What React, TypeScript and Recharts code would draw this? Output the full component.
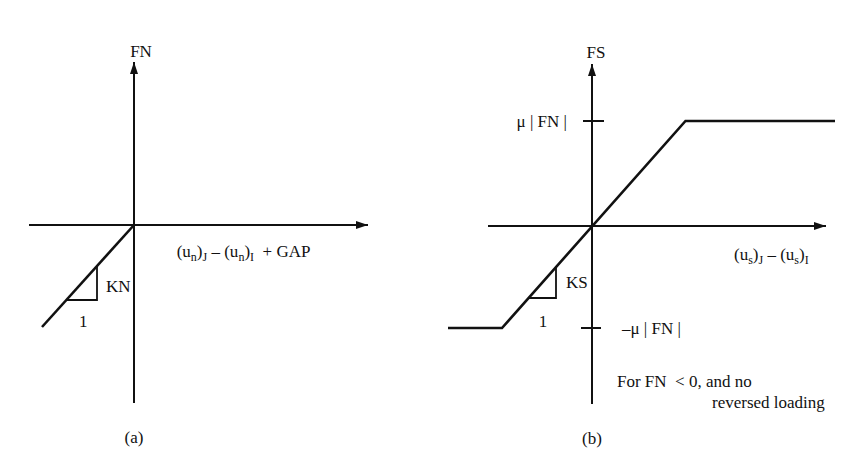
import { LineChart, Line, XAxis, YAxis, ReferenceLine, ReferenceDot } from 'recharts';

const INK = '#111';
const FONT = "'Liberation Serif', 'Times New Roman', 'DejaVu Serif', serif";

type Pt = { x: number; y: number };
type Part = [string, boolean?];
type Note = { x: number; y: number; anchor: 'start' | 'middle' | 'end'; parts: Part[] };

// panel (a) - normal force vs. normal gap
const nAxisX: Pt[] = [{ x: -10.5, y: 0 }, { x: 23.4, y: 0 }];
const nAxisY: Pt[] = [{ x: 0, y: -17.8 }, { x: 0, y: 16.3 }];
const nCurve: Pt[] = [{ x: -9.2, y: -10.2 }, { x: 0, y: 0 }];
const nSlope: Pt[] = [{ x: -6.76, y: -7.5 }, { x: -3.7, y: -7.5 }, { x: -3.7, y: -4.1 }];
const nTicks: Pt[][] = [];
const nNotes: Note[] = [
  { x: 0.7, y: 16.8, anchor: 'middle', parts: [['FN']] },
  { x: -2.8, y: -6.67, anchor: 'start', parts: [['KN']] },
  { x: -5.07, y: -10.2, anchor: 'middle', parts: [['1']] },
  {
    x: 4.27, y: -3.17, anchor: 'start',
    parts: [['(u'], ['n', true], [')'], ['J', true], [' \u2013 (u'], ['n', true], [')'], ['I', true], ['  + GAP']],
  },
  { x: 0, y: -21.8, anchor: 'middle', parts: [['(a)']] },
];

// panel (b) - shear force vs. relative shear displacement
const sAxisX: Pt[] = [{ x: -10.4, y: 0 }, { x: 23.4, y: 0 }];
const sAxisY: Pt[] = [{ x: 0, y: -17.8 }, { x: 0, y: 16.2 }];
const sCurve: Pt[] = [
  { x: -14.4, y: -10.2 },
  { x: -9.0, y: -10.2 },
  { x: 9.35, y: 10.5 },
  { x: 24.3, y: 10.5 },
];
const sSlope: Pt[] = [{ x: -6.4, y: -7.2 }, { x: -3.6, y: -7.2 }, { x: -3.6, y: -4.05 }];
const sTicks: Pt[][] = [
  [{ x: -0.9, y: 10.5 }, { x: 1.2, y: 10.5 }],
  [{ x: -1.1, y: -10.2 }, { x: 0.9, y: -10.2 }],
];
const sNotes: Note[] = [
  { x: 0.4, y: 16.8, anchor: 'middle', parts: [['FS']] },
  { x: -2.5, y: 9.9, anchor: 'end', parts: [['\u03bc | FN |']] },
  { x: 3.0, y: -10.8, anchor: 'start', parts: [['\u2013\u03bc | FN |']] },
  { x: -2.6, y: -6.2, anchor: 'start', parts: [['KS']] },
  { x: -4.9, y: -10.1, anchor: 'middle', parts: [['1']] },
  {
    x: 14.2, y: -3.4, anchor: 'start',
    parts: [['(u'], ['s', true], [')'], ['J', true], [' \u2013 (u'], ['s', true], [')'], ['I', true]],
  },
  { x: 2.5, y: -16.1, anchor: 'start', parts: [['For FN  < 0, and no']] },
  { x: 12.0, y: -18.2, anchor: 'start', parts: [['reversed loading']] },
  { x: 0, y: -21.8, anchor: 'middle', parts: [['(b)']] },
];

const arrowRight = (p: any) => (
  <polygon points={`${p.cx},${p.cy} ${p.cx - 12},${p.cy - 4} ${p.cx - 12},${p.cy + 4}`} fill={INK} />
);
const arrowUp = (p: any) => (
  <polygon points={`${p.cx},${p.cy} ${p.cx - 4},${p.cy + 12} ${p.cx + 4},${p.cy + 12}`} fill={INK} />
);

const noteShape = (n: Note) => (p: any) => {
  let sub = false;
  return (
    <text
      x={p.cx}
      y={p.cy}
      textAnchor={n.anchor}
      fill={INK}
      style={{ whiteSpace: 'pre', fontFamily: FONT, fontSize: 17 }}
    >
      {n.parts.map(([t, s], i) => {
        const isSub = !!s;
        const dy = isSub && !sub ? 4 : !isSub && sub ? -4 : 0;
        sub = isSub;
        return (
          <tspan key={i} dy={dy} style={{ fontSize: isSub ? 12 : 17 }}>
            {t}
          </tspan>
        );
      })}
    </text>
  );
};

interface PanelProps {
  left: number;
  xDomain: [number, number];
  yDomain: [number, number];
  axisX: Pt[];
  axisY: Pt[];
  curve: Pt[];
  slope: Pt[];
  ticks: Pt[][];
  notes: Note[];
}

const Panel = ({ left, xDomain, yDomain, axisX, axisY, curve, slope, ticks, notes }: PanelProps) => (
  <div style={{ position: 'absolute', left, top: 0 }}>
    <LineChart width={433} height={450} margin={{ top: 0, right: 0, bottom: 0, left: 0 }}>
      <XAxis type="number" dataKey="x" domain={xDomain} hide allowDataOverflow />
      <YAxis type="number" dataKey="y" domain={yDomain} hide allowDataOverflow />
      <ReferenceLine segment={axisX} stroke={INK} strokeWidth={2} />
      <ReferenceLine segment={axisY} stroke={INK} strokeWidth={2} />
      {ticks.map((t, i) => (
        <ReferenceLine key={i} segment={t} stroke={INK} strokeWidth={2} />
      ))}
      <ReferenceDot x={axisX[1].x} y={axisX[1].y} shape={arrowRight} />
      <ReferenceDot x={axisY[1].x} y={axisY[1].y} shape={arrowUp} />
      <Line data={curve} dataKey="y" type="linear" stroke={INK} strokeWidth={2.6} dot={false} activeDot={false} isAnimationActive={false} />
      <Line data={slope} dataKey="y" type="linear" stroke={INK} strokeWidth={1.8} dot={false} activeDot={false} isAnimationActive={false} />
      {notes.map((n, i) => (
        <ReferenceDot key={i} x={n.x} y={n.y} shape={noteShape(n)} />
      ))}
    </LineChart>
  </div>
);

export default function App() {
  return (
    <div style={{ position: 'absolute', left: 0, top: 0, width: 866, height: 450, background: '#fff' }}>
      <Panel left={0} xDomain={[-13.4, 29.9]} yDomain={[-22.5, 22.5]} axisX={nAxisX} axisY={nAxisY} curve={nCurve} slope={nSlope} ticks={nTicks} notes={nNotes} />
      <Panel left={433} xDomain={[-15.9, 27.4]} yDomain={[-22.4, 22.6]} axisX={sAxisX} axisY={sAxisY} curve={sCurve} slope={sSlope} ticks={sTicks} notes={sNotes} />
    </div>
  );
}
